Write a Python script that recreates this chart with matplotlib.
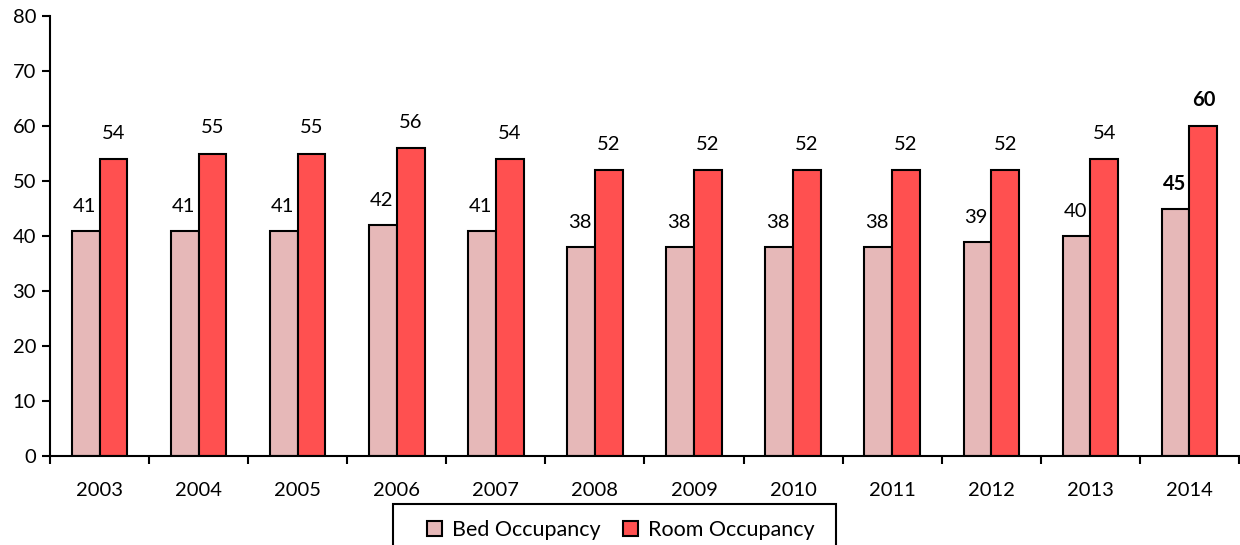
import numpy as np
import matplotlib.pyplot as plt
import matplotlib as mpl
from matplotlib.patches import Rectangle

mpl.rc('font', family=['Lato', 'DejaVu Sans'])

years = ["2003", "2004", "2005", "2006", "2007", "2008",
         "2009", "2010", "2011", "2012", "2013", "2014"]
bed = [41, 41, 41, 42, 41, 38, 38, 38, 38, 39, 40, 45]
room = [54, 55, 55, 56, 54, 52, 52, 52, 52, 52, 54, 60]

fs = 14.5

fig = plt.figure(figsize=(12.4, 5.45), dpi=100)
ax = fig.add_axes([50 / 1240, 89 / 545, 1189 / 1240, 440 / 545])

x = np.arange(len(years))
w = 0.28
b1 = ax.bar(x - w / 2, bed, w, color="#e6b8b8", edgecolor="black", linewidth=1.5,
            label="Bed Occupancy")
b2 = ax.bar(x + w / 2, room, w, color="#ff5050", edgecolor="black", linewidth=1.5,
            label="Room Occupancy")

for i in range(len(years)):
    weight = "bold" if i == len(years) - 1 else "normal"
    ax.annotate(str(bed[i]), (x[i] - w / 2, bed[i]), xytext=(-1, 17.5),
                textcoords="offset points", ha="center", va="center",
                fontsize=fs, fontweight=weight)
    ax.annotate(str(room[i]), (x[i] + w / 2, room[i]), xytext=(0, 18.5),
                textcoords="offset points", ha="center", va="center",
                fontsize=fs, fontweight=weight)

ax.set_xlim(-0.5, len(years) - 0.5)
ax.set_ylim(0, 80)
ax.set_yticks(range(0, 81, 10))
ax.set_xticks(x)
ax.set_xticklabels(years)
ax.set_xticks(np.arange(-0.5, len(years)), minor=True)
ax.tick_params(axis="x", which="major", length=0, pad=19, labelsize=fs)
ax.tick_params(axis="x", which="minor", length=6, width=1.5, direction="out")
ax.tick_params(axis="y", length=6, width=1.5, direction="out", labelsize=fs, pad=4)
ax.spines["top"].set_visible(False)
ax.spines["right"].set_visible(False)
ax.spines["left"].set_linewidth(1.5)
ax.spines["bottom"].set_linewidth(1.5)

# legend box runs off the bottom edge, so draw the frame by hand
leg = fig.legend(handles=[b1, b2], loc="center", bbox_to_anchor=(621 / 1240, 15 / 545),
                 ncol=2, frameon=False, fontsize=15.5,
                 handlelength=0.7, handleheight=0.7, handletextpad=0.45,
                 columnspacing=1.05, borderpad=0, borderaxespad=0)
fig.patches.append(Rectangle((393 / 1240, -0.02), 443 / 1240, 52 / 545,
                             transform=fig.transFigure, fill=False,
                             edgecolor="black", linewidth=1.5))

fig.savefig("out.png", dpi=100)
